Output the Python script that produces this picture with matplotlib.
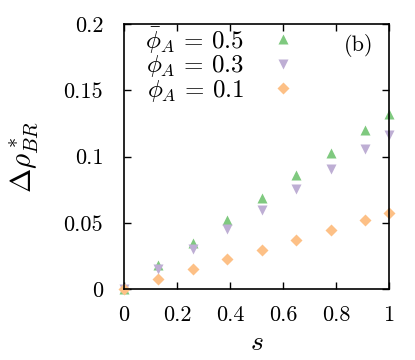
import matplotlib
matplotlib.use("Agg")
import matplotlib.pyplot as plt
from matplotlib.ticker import FuncFormatter

plt.rcParams['font.family'] = 'serif'
plt.rcParams['font.serif'] = ['cmr10']
plt.rcParams['mathtext.fontset'] = 'cm'
plt.rcParams['axes.unicode_minus'] = False

s = [0, 0.13, 0.26, 0.39, 0.52, 0.65, 0.78, 0.91, 1.0]
phi05 = [0, 0.018, 0.035, 0.052, 0.069, 0.086, 0.103, 0.120, 0.132]
phi03 = [0, 0.015, 0.030, 0.045, 0.060, 0.0755, 0.0905, 0.1055, 0.1165]
phi01 = [0, 0.0076, 0.0151, 0.0224, 0.0297, 0.0373, 0.0446, 0.0519, 0.0572]
labels = [r'$\bar{\phi}_A\,=\,0.5$', r'$\phi_A\,=\,0.3$', r'$\phi_A\,=\,0.1$']

fig = plt.figure(figsize=(4.15, 3.6), dpi=100)
ax = fig.add_axes([0.2988, 0.1972, 0.6385, 0.7361])

ax.plot(s, phi05, '^', color='#7fc97f', ms=7, mec='none', label=labels[0], clip_on=False)
ax.plot(s, phi03, 'v', color='#beaed4', ms=7, mec='none', label=labels[1], clip_on=False)
ax.plot(s, phi01, 'D', color='#fdc086', ms=6, mec='none', label=labels[2], clip_on=False)

ax.set_xlim(0, 1)
ax.set_ylim(0, 0.2)
ax.set_xticks([0, 0.2, 0.4, 0.6, 0.8, 1])
ax.set_yticks([0, 0.05, 0.1, 0.15, 0.2])
fmt = FuncFormatter(lambda v, p: f'{v:g}')
ax.xaxis.set_major_formatter(fmt)
ax.yaxis.set_major_formatter(fmt)
ax.tick_params(direction='in', top=True, right=True, length=5, width=1,
               labelsize=16)
ax.tick_params(axis='y', pad=15)
ax.tick_params(axis='x', pad=12)
for sp in ax.spines.values():
    sp.set_linewidth(1.2)

ax.set_xlabel(r'$s$', fontsize=20, labelpad=3)
ax.set_ylabel(r'$\Delta\rho^*_{BR}$', fontsize=21)
ax.yaxis.set_label_coords(-0.315, 0.5)
ax.text(0.94, 0.92, '(b)', transform=ax.transAxes, fontsize=16, ha='right', va='center')

ax.legend(loc='upper left', bbox_to_anchor=(0.065, 1.012), frameon=False,
          markerfirst=False, fontsize=18, handlelength=1.5, handletextpad=0.8,
          labelspacing=-0.05, borderaxespad=0.0, borderpad=0.15)

fig.savefig('out.png', dpi=100)
